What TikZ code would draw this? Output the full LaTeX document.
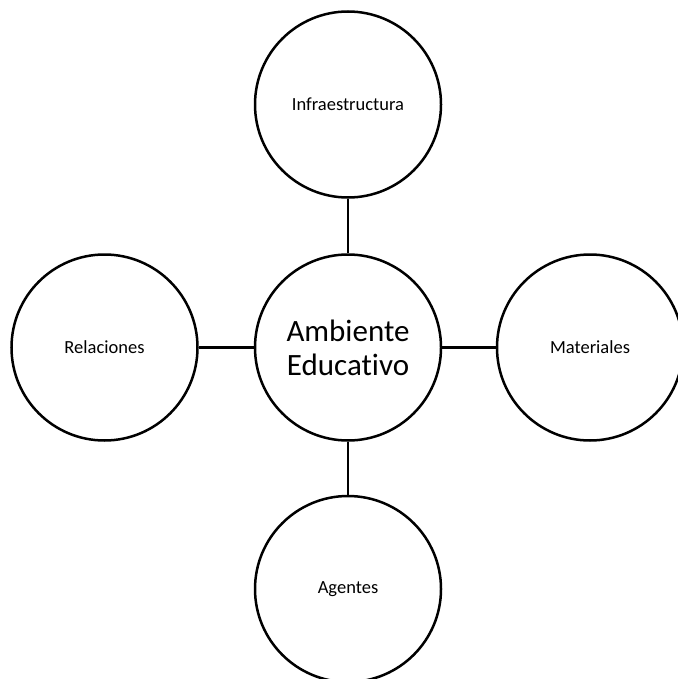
\documentclass[tikz,border=0pt]{standalone}
\usepackage{fontspec}
\setmainfont[Ligatures=NoCommon]{Carlito}
\begin{document}
\begin{tikzpicture}[x=1pt,y=-1pt,
  bub/.style={circle,draw=black,line width=2.5pt,minimum size=186pt,inner sep=0pt,align=center,font=\fontsize{18.5}{22}\selectfont},
  big/.style={font=\fontsize{31}{34}\selectfont},
  link/.style={draw=black,line width=2.5pt}]
\useasboundingbox (0,0) rectangle (677,679);
\node[bub,big] (c) at (348,347.5) {Ambiente\\Educativo};
\node[bub] (t) at (348,104.5) {Infraestructura};
\node[bub] (l) at (104.5,347.5) {Relaciones};
\node[bub] (r) at (590,347.5) {Materiales};
\node[bub] (b) at (348,589) {Agentes};
\draw[link] (c) -- (t);
\draw[link] (c) -- (l);
\draw[link] (c) -- (r);
\draw[link] (c) -- (b);
\end{tikzpicture}
\end{document}
